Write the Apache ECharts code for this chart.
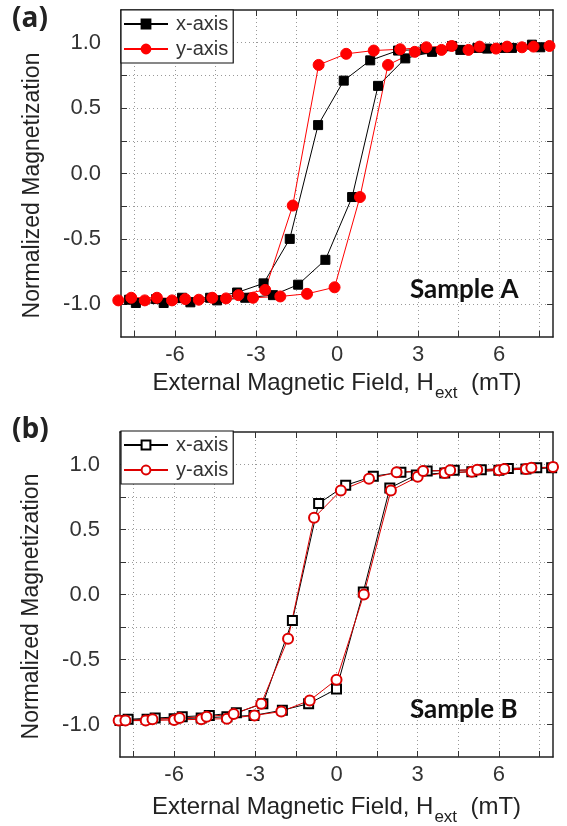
<!DOCTYPE html>
<html>
<head>
<meta charset="utf-8">
<script src="https://cdn.jsdelivr.net/npm/echarts@6/dist/echarts.min.js"></script>
<style>
  html, body { margin: 0; padding: 0; background: #fff; }
  #main { width: 567px; height: 826px; }
</style>
</head>
<body>
<div id="main"></div>
<script>
// hysteresis loops, [H (mT), M/Ms] in measuring order (up sweep, then down sweep)
var sampleA_x = [
  [-7.45,-0.99],[-6.42,-0.99],[-5.43,-0.985],[-4.44,-0.97],[-3.40,-0.95],[-2.37,-0.93],
  [-1.44,-0.85],[-0.43,-0.66],[0.56,-0.18],[1.52,0.67],[2.53,0.88],[3.52,0.93],
  [4.57,0.945],[5.56,0.955],[6.48,0.96],[7.53,0.965],
  [7.22,0.985],[6.2,0.96],[5.2,0.96],[4.26,0.975],[3.25,0.95],[2.26,0.94],
  [1.23,0.865],[0.25,0.71],[-0.70,0.37],[-1.75,-0.50],[-2.72,-0.84],[-3.70,-0.91],
  [-4.7,-0.95],[-5.74,-0.95],[-6.7,-0.96],[-7.7,-0.965]
];
var sampleA_y = [
  [-8.1,-0.97],[-7.12,-0.97],[-6.11,-0.97],[-5.12,-0.965],[-4.11,-0.955],[-3.11,-0.95],
  [-2.10,-0.94],[-1.11,-0.92],[-0.09,-0.87],[0.85,-0.18],[1.89,0.83],[2.88,0.93],
  [3.87,0.945],[4.87,0.945],[5.89,0.955],[6.85,0.965],[7.87,0.975],
  [7.28,0.97],[6.3,0.97],[5.28,0.97],[4.25,0.975],[3.31,0.965],[2.34,0.95],
  [1.36,0.94],[0.34,0.915],[-0.68,0.83],[-1.64,-0.245],[-2.66,-0.89],[-3.65,-0.93],
  [-4.62,-0.95],[-5.62,-0.96],[-6.67,-0.95],[-7.62,-0.95]
];
var sampleB_x = [
  [-8.0,-0.97],[-7.0,-0.96],[-6.0,-0.955],[-5.0,-0.95],[-4.05,-0.94],[-3.05,-0.93],
  [-2.0,-0.89],[-1.03,-0.84],[0,-0.727],[0.99,0.02],[1.97,0.82],[2.95,0.92],
  [4.0,0.935],[5.0,0.945],[6.0,0.955],[7.0,0.965],[7.95,0.975],
  [7.4,0.975],[6.35,0.97],[5.35,0.96],[4.35,0.955],[3.35,0.95],[2.38,0.94],
  [1.36,0.91],[0.34,0.84],[-0.66,0.70],[-1.63,-0.20],[-2.72,-0.84],[-3.7,-0.91],
  [-4.7,-0.93],[-5.7,-0.94],[-6.7,-0.95],[-7.7,-0.96]
];
var sampleB_y = [
  [-8.05,-0.97],[-7.05,-0.97],[-6.0,-0.965],[-5.0,-0.96],[-4.05,-0.955],[-3.03,-0.93],
  [-2.04,-0.9],[-0.99,-0.815],[0,-0.655],[1.01,0.0],[2.01,0.80],[3.0,0.905],
  [4.0,0.935],[5.0,0.945],[6.0,0.955],[7.0,0.965],[8.0,0.98],
  [7.2,0.975],[6.2,0.965],[5.2,0.96],[4.2,0.955],[3.2,0.95],[2.22,0.94],
  [1.2,0.89],[0.16,0.80],[-0.83,0.59],[-1.79,-0.34],[-2.78,-0.84],[-3.8,-0.92],
  [-4.8,-0.94],[-5.8,-0.95],[-6.8,-0.96],[-7.8,-0.97]
];

var xLabels = [-6, -3, 0, 3, 6];
var xTicks = [-7.5,-6,-4.5,-3,-1.5,0,1.5,3,4.5,6,7.5];
var yLabels = [-1, -0.5, 0, 0.5, 1];
var yTicks = [-1,-0.75,-0.5,-0.25,0,0.25,0.5,0.75,1];
var legendNames = { xa: 'x-axis', ya: 'y-axis', xb: 'x-axis', yb: 'y-axis' };

var FONT = 'Liberation Sans, Arial, sans-serif';
var frame = { show: true, onZero: false, lineStyle: { color: '#222', width: 1.5 } };
var tick = function (vals) {
  return { show: true, inside: true, length: 6, customValues: vals, lineStyle: { color: '#333' } };
};
var dots = { type: [1, 3], color: '#999' };

function xAxes(gi, gap) {
  return [{
    type: 'value', gridIndex: gi, position: 'bottom', min: -8, max: 8,
    axisLine: frame, axisTick: tick(xTicks),
    axisLabel: { customValues: xLabels, fontSize: 22, color: '#333', fontFamily: FONT, margin: 7 },
    splitLine: { show: true, customValues: xLabels, lineStyle: dots },
    name: '{n|External Magnetic Field, H}{s|ext}{n|  (mT)}',
    nameLocation: 'middle', nameGap: gap,
    nameTextStyle: {
      fontFamily: FONT, color: '#222',
      rich: {
        n: { fontSize: 24, lineHeight: 26, verticalAlign: 'top', fontFamily: FONT, color: '#222' },
        s: { fontSize: 17, lineHeight: 17, padding: [14, 0, 0, 1], verticalAlign: 'top', fontFamily: FONT, color: '#222' }
      }
    }
  }, {
    type: 'value', gridIndex: gi, position: 'top', min: -8, max: 8,
    axisLine: frame, axisTick: tick(xTicks), axisLabel: { show: false }, splitLine: { show: false }
  }];
}
function yAxes(gi) {
  return [{
    type: 'value', gridIndex: gi, position: 'left', min: -1.25, max: 1.25,
    axisLine: frame, axisTick: tick(yTicks),
    axisLabel: {
      customValues: yLabels, fontSize: 22, color: '#333', fontFamily: FONT, margin: 20,
      formatter: function (v) { return v.toFixed(1); }
    },
    splitLine: { show: true, customValues: yLabels, lineStyle: dots },
    name: 'Normalized Magnetization', nameLocation: 'middle', nameGap: 77, nameRotate: 90,
    nameTextStyle: { fontSize: 23, color: '#222', fontFamily: FONT, padding: [0, 24, 0, 0] }
  }, {
    type: 'value', gridIndex: gi, position: 'right', min: -1.25, max: 1.25,
    axisLine: frame, axisTick: tick(yTicks), axisLabel: { show: false }, splitLine: { show: false }
  }];
}

function loop(name, data, xi, yi, color, symbol, size) {
  return {
    name: name, type: 'line', xAxisIndex: xi, yAxisIndex: yi, data: data,
    symbol: symbol, symbolSize: size, clip: false, animation: false,
    lineStyle: { color: color, width: 1 },
    itemStyle: { color: color, borderColor: color, borderWidth: 1 }
  };
}

function legend(top, names) {
  return {
    left: 121, top: top, orient: 'vertical', selectedMode: false,
    backgroundColor: '#fff', borderColor: '#111', borderWidth: 1.2, borderRadius: 0,
    padding: [4, 5, 4, 2], itemGap: 5, itemWidth: 44, itemHeight: 11,
    textStyle: { fontSize: 20, color: '#333', fontFamily: FONT, padding: [0, 0, 0, 3] },
    data: names,
    formatter: function (n) { return legendNames[n]; }
  };
}

var myChart = echarts.init(document.getElementById('main'));
myChart.setOption({
  backgroundColor: '#fff',
  animation: false,
  grid: [
    { left: 121, top: 10, width: 432, height: 327, outerBoundsMode: 'none' },
    { left: 120, top: 432, width: 433, height: 325, outerBoundsMode: 'none' }
  ],
  xAxis: xAxes(0, 34).concat(xAxes(1, 38)),
  yAxis: yAxes(0).concat(yAxes(1)),
  legend: [legend(10, ['xa', 'ya']), legend(431, ['xb', 'yb'])],
  graphic: [
    { type: 'text', left: 12, top: 5, style: { text: '(a)', font: 'bold 28px "Open Sans", sans-serif', fill: '#222' } },
    { type: 'text', left: 12, top: 416, style: { text: '(b)', font: 'bold 28px "Open Sans", sans-serif', fill: '#222' } },
    { type: 'text', left: 410, top: 277, style: { text: 'Sample A', font: 'bold 26px Lato, sans-serif', fill: '#111' } },
    { type: 'text', left: 410, top: 697, style: { text: 'Sample B', font: 'bold 26px Lato, sans-serif', fill: '#111' } }
  ],
  series: [
    loop('xa', sampleA_x, 0, 0, '#000', 'rect', 9),
    loop('ya', sampleA_y, 0, 0, '#f00', 'circle', 11),
    loop('xb', sampleB_x, 2, 2, '#000', 'emptyRect', 9),
    loop('yb', sampleB_y, 2, 2, '#d00', 'emptyCircle', 10)
  ]
});
</script>
</body>
</html>
